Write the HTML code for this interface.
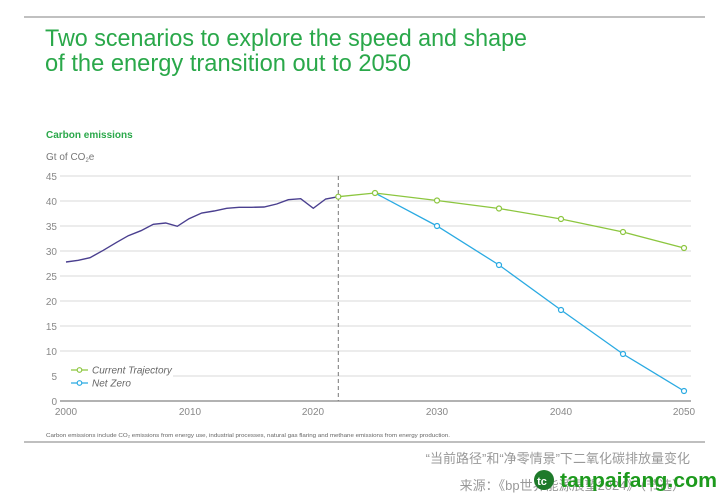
<!DOCTYPE html>
<html><head><meta charset="utf-8"><style>
body{margin:0;background:#fff;}
svg{display:block;}
</style></head><body>
<svg width="727" height="500" xmlns="http://www.w3.org/2000/svg" font-family="Liberation Sans, sans-serif">
<line x1="24" y1="17" x2="705" y2="17" stroke="#9a9a9a" stroke-width="1.2"/>
<text x="45" y="46" font-size="24" fill="#2aa84a" textLength="482" lengthAdjust="spacingAndGlyphs">Two scenarios to explore the speed and shape</text>
<text x="45" y="71" font-size="24" fill="#2aa84a" textLength="366" lengthAdjust="spacingAndGlyphs">of the energy transition out to 2050</text>
<text x="46" y="138" font-size="10" font-weight="bold" fill="#2aa84a">Carbon emissions</text>
<text x="46" y="160" font-size="10" fill="#777">Gt of CO<tspan font-size="6" dy="2">2</tspan><tspan dy="-2">e</tspan></text>
<g stroke="#e0e0e0" stroke-width="1.2">
<line x1="60" y1="176" x2="691" y2="176"/>
<line x1="60" y1="201" x2="691" y2="201"/>
<line x1="60" y1="226" x2="691" y2="226"/>
<line x1="60" y1="251" x2="691" y2="251"/>
<line x1="60" y1="276" x2="691" y2="276"/>
<line x1="60" y1="301" x2="691" y2="301"/>
<line x1="60" y1="326" x2="691" y2="326"/>
<line x1="60" y1="351" x2="691" y2="351"/>
<line x1="173" y1="376" x2="691" y2="376"/>
</g>
<line x1="60" y1="401" x2="691" y2="401" stroke="#999" stroke-width="1.5"/>
<g font-size="10" fill="#888" text-anchor="end">
<text x="57" y="180">45</text><text x="57" y="205">40</text><text x="57" y="230">35</text>
<text x="57" y="255">30</text><text x="57" y="280">25</text><text x="57" y="305">20</text>
<text x="57" y="330">15</text><text x="57" y="355">10</text><text x="57" y="380">5</text>
<text x="57" y="405">0</text>
</g>
<g font-size="10" fill="#888" text-anchor="middle">
<text x="66" y="415">2000</text><text x="190" y="415">2010</text><text x="313" y="415">2020</text>
<text x="437" y="415">2030</text><text x="561" y="415">2040</text><text x="684" y="415">2050</text>
</g>
<line x1="338.3" y1="176" x2="338.3" y2="401" stroke="#777" stroke-width="1" stroke-dasharray="4,3"/>
<polyline fill="none" stroke="#4a3f8f" stroke-width="1.4" points="66,262 78.3,260.3 90,257.7 103.3,250.3 116.7,242.3 128.3,235.7 141,230.7 153.3,224.3 165.7,223 177.3,226.3 189,218.7 201.7,213 214,211 226.7,208.3 239,207.3 251.7,207.3 264,207 276.7,204 288.3,199.7 300.7,198.7 313.3,208.3 325.7,199 338.3,196.7"/>
<polyline fill="none" stroke="#2aaae2" stroke-width="1.3" points="375,193 437,226 499,265 561,310 623,354 684,391"/>
<polyline fill="none" stroke="#8cc63f" stroke-width="1.3" points="338.3,196.7 375,193 437,200.5 499,208.5 561,219 623,232 684,248"/>
<g fill="#fff" stroke="#2aaae2" stroke-width="1.2">
<circle cx="437" cy="226" r="2.5"/><circle cx="499" cy="265" r="2.5"/><circle cx="561" cy="310" r="2.5"/><circle cx="623" cy="354" r="2.5"/><circle cx="684" cy="391" r="2.5"/>
</g>
<g fill="#fff" stroke="#8cc63f" stroke-width="1.2">
<circle cx="338.3" cy="196.7" r="2.5"/><circle cx="375" cy="193" r="2.5"/><circle cx="437" cy="200.5" r="2.5"/><circle cx="499" cy="208.5" r="2.5"/><circle cx="561" cy="219" r="2.5"/><circle cx="623" cy="232" r="2.5"/><circle cx="684" cy="248" r="2.5"/>
</g>
<line x1="71" y1="370" x2="88" y2="370" stroke="#8cc63f" stroke-width="1.3"/>
<circle cx="79.5" cy="370" r="2.3" fill="#fff" stroke="#8cc63f" stroke-width="1.2"/>
<text x="92" y="373.5" font-size="10" font-style="italic" fill="#666">Current Trajectory</text>
<line x1="71" y1="383" x2="88" y2="383" stroke="#2aaae2" stroke-width="1.3"/>
<circle cx="79.5" cy="383" r="2.3" fill="#fff" stroke="#2aaae2" stroke-width="1.2"/>
<text x="92" y="386.5" font-size="10" font-style="italic" fill="#666">Net Zero</text>
<text x="46" y="437" font-size="5.5" fill="#666" textLength="404" lengthAdjust="spacingAndGlyphs">Carbon emissions include CO₂ emissions from energy use, industrial processes, natural gas flaring and methane emissions from energy production.</text>
<line x1="24" y1="442" x2="705" y2="442" stroke="#999" stroke-width="1.2"/>
<text x="690" y="463" font-size="13" fill="#999" text-anchor="end" font-family="Liberation Sans, Noto Sans CJK SC, sans-serif">“当前路径”和“净零情景”下二氧化碳排放量变化</text>
<text x="685" y="490" font-size="13" fill="#999" text-anchor="end" font-family="Liberation Sans, Noto Sans CJK SC, sans-serif">来源：《bp世界能源展望2024》（节选）</text>
<circle cx="544" cy="480" r="10" fill="#1e7a2a"/>
<text x="542" y="485" font-size="11" font-weight="bold" fill="#fff" text-anchor="middle">tc</text>
<text x="560" y="487" font-size="20" font-weight="bold" fill="#1d9a1d" textLength="157" lengthAdjust="spacingAndGlyphs">tanpaifang.com</text>
</svg>
</body></html>
